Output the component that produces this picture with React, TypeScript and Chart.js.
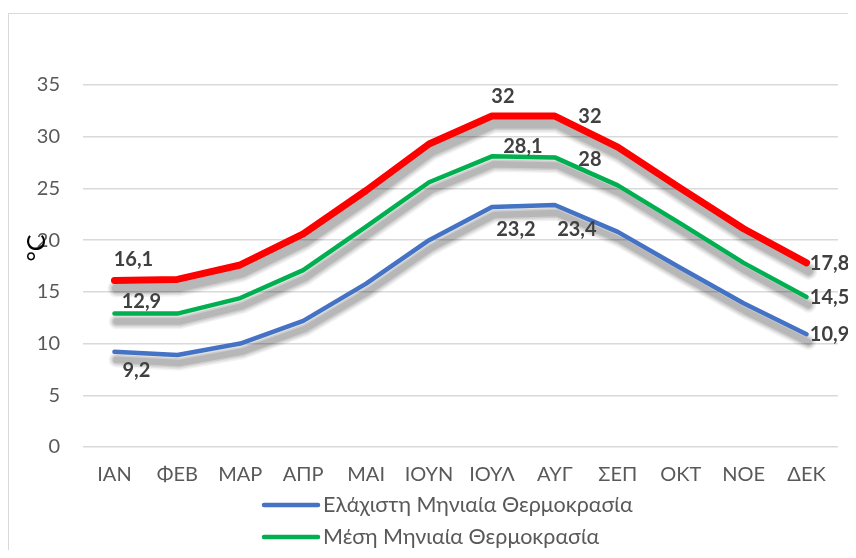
import React, { useEffect, useRef } from "react";
import { Chart, registerables } from "chart.js";

Chart.register(...registerables);

const categories = ["ΙΑΝ", "ΦΕΒ", "ΜΑΡ", "ΑΠΡ", "ΜΑΙ", "ΙΟΥΝ", "ΙΟΥΛ", "ΑΥΓ", "ΣΕΠ", "ΟΚΤ", "ΝΟΕ", "ΔΕΚ"];
const minTemp = [9.2, 8.9, 10.0, 12.2, 15.8, 20.0, 23.2, 23.4, 20.8, 17.3, 13.9, 10.9];
const meanTemp = [12.9, 12.9, 14.4, 17.1, 21.3, 25.6, 28.1, 28.0, 25.3, 21.6, 17.8, 14.5];
const maxTemp = [16.1, 16.2, 17.6, 20.6, 24.8, 29.3, 32.0, 32.0, 29.0, 25.0, 21.1, 17.8];
const seriesNames = ["Ελάχιστη Μηνιαία Θερμοκρασία", "Μέση Μηνιαία Θερμοκρασία", "Μέγιστη Μηνιαία Θερμοκρασία"];
const yTicks = { min: 0, max: 35, step: 5 };
const yTitle = "°C";

// which points carry a value label, and where the label sits relative to the point
const labelSpots: Array<Array<[number, number, number]>> = [
  [[0, 22, 19], [6, 24, 23], [7, 22, 25], [11, 23, 0]],
  [[0, 27, -12], [6, 31, -10], [7, 35, 2], [11, 23, 1]],
  [[0, 19, -21], [6, 11, -19], [7, 35, 1], [11, 23, 1]],
];

const FONT = "Lato, 'Noto Sans', sans-serif";

// soft drop shadow under every line, built from a few translucent strokes of the line's own points
const shadowPlugin = {
  id: "lineShadow",
  beforeDatasetsDraw(chart: any) {
    const ctx = chart.ctx;
    chart.data.datasets.forEach((ds: any, di: number) => {
      const meta = chart.getDatasetMeta(di);
      const pts = meta.data;
      if (!pts.length) return;
      const passes = [
        [11, 0.05],
        [8, 0.07],
        [5, 0.09],
        [2, 0.11],
      ];
      passes.forEach(([extra, alpha]) => {
        ctx.save();
        ctx.strokeStyle = `rgba(0,0,0,${alpha})`;
        ctx.lineWidth = ds.borderWidth + extra;
        ctx.lineCap = "round";
        ctx.lineJoin = "round";
        ctx.translate(2, 8);
        ctx.beginPath();
        pts.forEach((p: any, i: number) => (i ? ctx.lineTo(p.x, p.y) : ctx.moveTo(p.x, p.y)));
        ctx.stroke();
        ctx.restore();
      });
    });
  },
};

const valueLabelPlugin = {
  id: "valueLabels",
  afterDatasetsDraw(chart: any) {
    const ctx = chart.ctx;
    ctx.save();
    ctx.font = `bold 20px ${FONT}`;
    ctx.fillStyle = "#404040";
    ctx.textAlign = "center";
    ctx.textBaseline = "middle";
    chart.data.datasets.forEach((ds: any, di: number) => {
      const meta = chart.getDatasetMeta(di);
      (labelSpots[di] || []).forEach(([idx, dx, dy]) => {
        const pt = meta.data[idx];
        if (!pt) return;
        const txt = String(ds.data[idx]).replace(".", ",");
        ctx.fillText(txt, pt.x + dx, pt.y + dy);
      });
    });
    ctx.restore();
  },
};

const axisTitlePlugin = {
  id: "axisTitle",
  afterDraw(chart: any) {
    const ctx = chart.ctx;
    const a = chart.chartArea;
    ctx.save();
    ctx.translate(28, (a.top + a.bottom) / 2 - 18);
    ctx.rotate(-Math.PI / 2);
    ctx.font = `25px ${FONT}`;
    ctx.fillStyle = "#000000";
    ctx.textAlign = "center";
    ctx.textBaseline = "middle";
    ctx.fillText(yTitle, 0, 0);
    ctx.restore();
  },
};

const legendPlugin = {
  id: "stackedLegend",
  afterDraw(chart: any) {
    const ctx = chart.ctx;
    const a = chart.chartArea;
    ctx.save();
    ctx.font = `21.5px ${FONT}`;
    ctx.textBaseline = "middle";
    ctx.textAlign = "left";
    chart.data.datasets.forEach((ds: any, i: number) => {
      const y = a.bottom + 58 + i * 32;
      const x0 = 255;
      ctx.strokeStyle = ds.borderColor;
      ctx.lineWidth = 4.5;
      ctx.lineCap = "round";
      ctx.beginPath();
      ctx.moveTo(x0, y);
      ctx.lineTo(x0 + 54, y);
      ctx.stroke();
      ctx.fillStyle = "#595959";
      ctx.fillText(ds.label, x0 + 59, y);
    });
    ctx.restore();
  },
};

export default function App() {
  const ref = useRef<HTMLCanvasElement | null>(null);

  useEffect(() => {
    document.documentElement.style.overflow = "hidden";
    const canvas = ref.current;
    if (!canvas) return;
    const chart = new Chart(canvas, {
      type: "line",
      data: {
        labels: categories,
        datasets: [
          { label: seriesNames[0], data: minTemp, borderColor: "#4472C4", backgroundColor: "#4472C4", borderWidth: 4.5 },
          { label: seriesNames[1], data: meanTemp, borderColor: "#00B050", backgroundColor: "#00B050", borderWidth: 4.5 },
          { label: seriesNames[2], data: maxTemp, borderColor: "#FF0000", backgroundColor: "#FF0000", borderWidth: 7 },
        ].map((d) => ({
          ...d,
          pointRadius: 0,
          pointHoverRadius: 0,
          tension: 0,
          fill: false,
          borderCapStyle: "round" as const,
          borderJoinStyle: "round" as const,
        })),
      },
      options: {
        animation: false,
        responsive: false,
        maintainAspectRatio: false,
        layout: { padding: { top: 71, right: 18, left: 0, bottom: 71 } },
        plugins: {
          legend: { display: false },
          tooltip: { enabled: false },
          title: { display: false },
        },
        scales: {
          x: {
            offset: true,
            grid: { display: false, drawTicks: false },
            border: { display: false },
            ticks: { color: "#595959", font: { family: FONT, size: 20 }, padding: 16, maxRotation: 0, autoSkip: false },
            afterFit: (s: any) => {
              s.height = 40;
            },
          },
          y: {
            min: yTicks.min,
            max: yTicks.max,
            grid: { color: "#d9d9d9", lineWidth: 1.5, drawTicks: false },
            border: { display: false },
            ticks: { stepSize: yTicks.step, color: "#595959", font: { family: FONT, size: 20 }, padding: 23 },
            afterFit: (s: any) => {
              s.width = 74;
            },
          },
        },
      },
      plugins: [shadowPlugin, valueLabelPlugin, axisTitlePlugin, legendPlugin],
    });
    return () => chart.destroy();
  }, []);

  return (
    <div style={{ width: 848, height: 542, overflow: "hidden", boxSizing: "border-box", paddingTop: 5 }}>
      <div style={{ width: 900, height: 600, border: "1px solid #d9d9d9", boxSizing: "border-box", background: "#fff" }}>
        <canvas ref={ref} width={847} height={544} style={{ display: "block", width: 847, height: 544 }} />
      </div>
    </div>
  );
}
